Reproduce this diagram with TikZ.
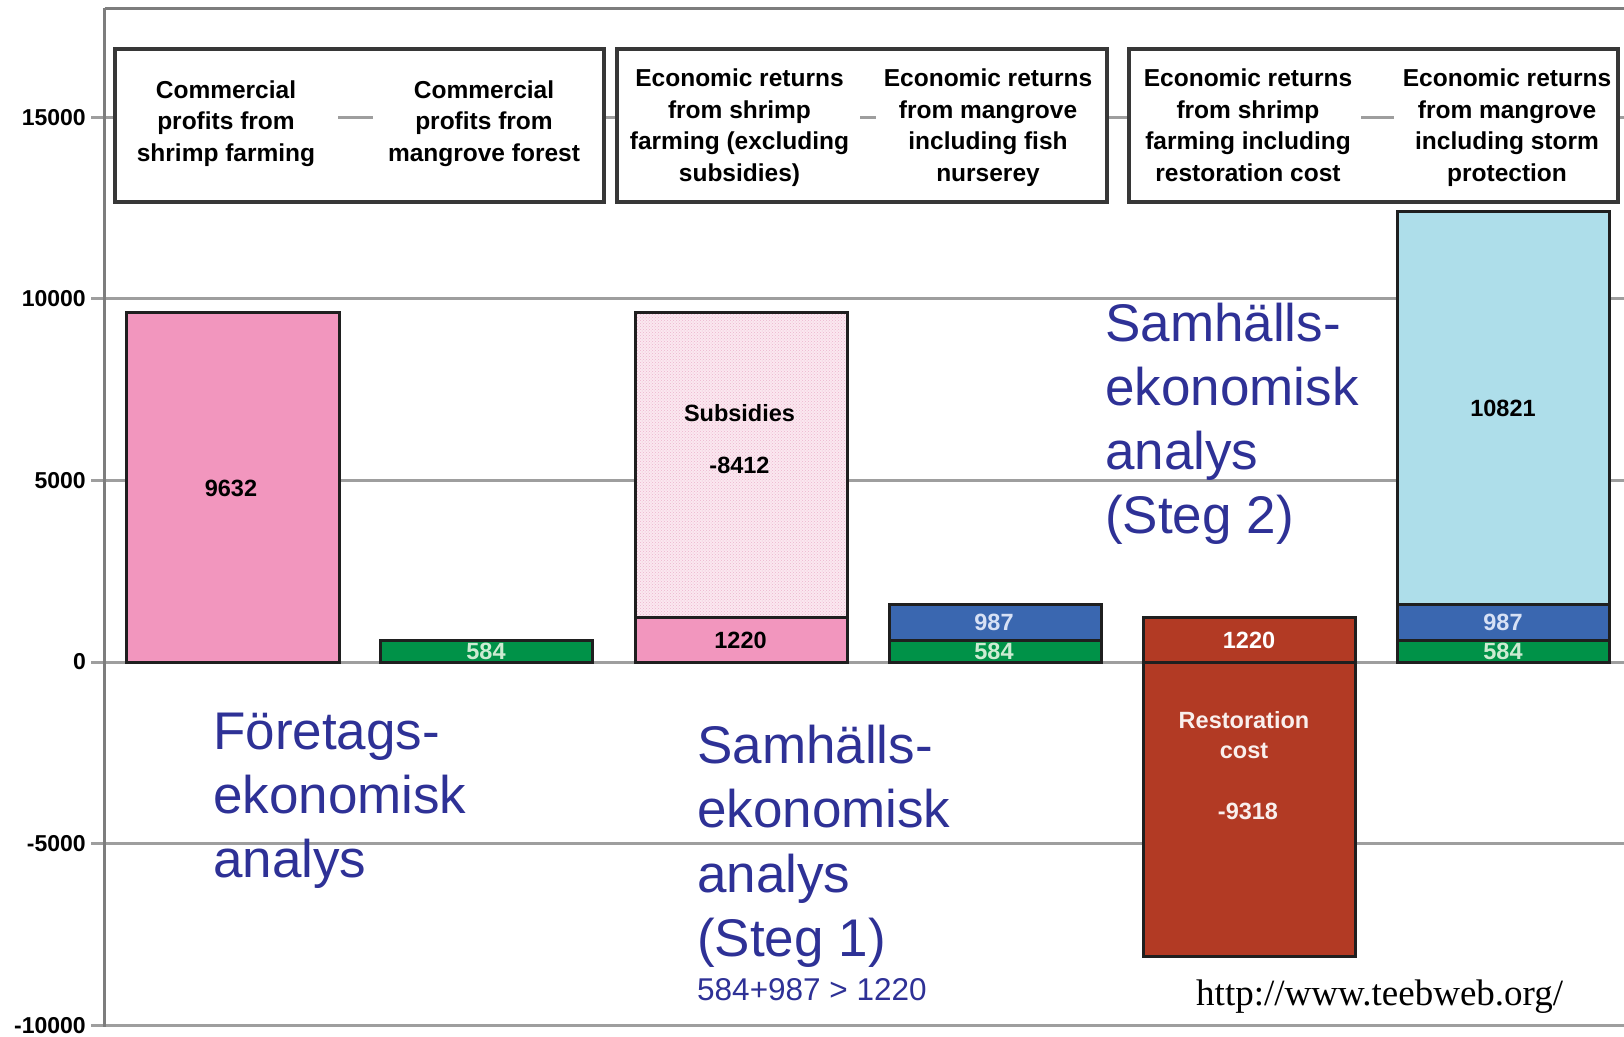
\documentclass[tikz,border=0pt]{standalone}
\usepackage{fontspec}
\setmainfont{Liberation Sans}
\newfontfamily\serifurl{Liberation Serif}
\usetikzlibrary{patterns}
\definecolor{gridc}{RGB}{158,158,158}
\definecolor{axisc}{RGB}{125,125,125}
\definecolor{pinkc}{RGB}{242,150,190}
\definecolor{pinklt}{RGB}{251,232,240}
\definecolor{pinkdot}{RGB}{236,180,205}
\definecolor{greenc}{RGB}{0,146,72}
\definecolor{bluec}{RGB}{58,103,176}
\definecolor{ltbluec}{RGB}{174,222,234}
\definecolor{redc}{RGB}{178,58,36}
\definecolor{txtblue}{RGB}{46,49,150}
\definecolor{framec}{RGB}{55,55,55}
\definecolor{lbl584}{RGB}{205,235,210}
\definecolor{lbl987}{RGB}{215,225,245}
\begin{document}
\begin{tikzpicture}[x=1pt,y=-1pt,
  gridln/.style={draw=gridc,line width=3pt},
  axisln/.style={draw=axisc,line width=3pt},
  barseg/.style={draw=black!88,line width=3pt},
  hdrbox/.style={draw=framec,line width=3.5pt,fill=white},
  hdr/.style={font=\bfseries\fontsize{24.5}{31.6}\selectfont,align=center,inner sep=0pt},
  ylab/.style={font=\bfseries\fontsize{23}{26}\selectfont,anchor=east,inner sep=0pt},
  vlab/.style={font=\bfseries\fontsize{23.5}{30}\selectfont,inner sep=0pt,align=center},
  big/.style={font=\fontsize{53}{64}\selectfont,text=txtblue,anchor=base west,inner sep=0pt},
  small/.style={font=\fontsize{31.5}{36}\selectfont,text=txtblue,anchor=base west,inner sep=0pt},
]
\useasboundingbox[fill=white] (0,0) rectangle (1624,1036);

% grid lines (values 15000 ... -10000)
\foreach \yy in {117.2,298.8,480.4,662,843.6,1025.2}
  \draw[gridln] (91,\yy) -- (1624,\yy);
% frame
\draw[axisln] (104.6,8) -- (1624,8);
\draw[axisln] (104.6,8) -- (104.6,1027);

% y labels
\node[ylab] (y15) at (86,117.2) {15000};
\node[ylab] (y10) at (86,298.8) {10000};
\node[ylab] (y5) at (86,480.4) {5000};
\node[ylab] (y0) at (86,662) {0};
\node[ylab] (ym5) at (86,843.6) {-5000};
\node[ylab] (ym10) at (86,1025.2) {-10000};

% header boxes
\draw[hdrbox] (115,49) rectangle (604,202);
\draw[hdrbox] (617,49) rectangle (1107,202);
\draw[hdrbox] (1129,49) rectangle (1618,202);
\draw[gridln] (338,117.2) -- (373,117.2);
\draw[gridln] (860,117.2) -- (876,117.2);
\draw[gridln] (1361,117.2) -- (1394,117.2);

\node[hdr] (h1) at (226,123.7) {Commercial\\profits from\\shrimp farming};
\node[hdr] (h2) at (484,123.7) {Commercial\\profits from\\mangrove forest};
\node[hdr] (h3) at (739.5,127.8) {Economic returns\\from shrimp\\farming (excluding\\subsidies)};
\node[hdr] (h4) at (988,127.8) {Economic returns\\from mangrove\\including fish\\nurserey};
\node[hdr] (h5) at (1248,125.3) {Economic returns\\from shrimp\\farming including\\restoration cost};
\node[hdr] (h6) at (1507,127.8) {Economic returns\\from mangrove\\including storm\\protection};

% bar 1
\fill[pinkc] (126,312.2) rectangle (339,662);
\draw[barseg] (126,312.2) rectangle (339,662);
% bar 2
\fill[greenc] (380,640.8) rectangle (592,662);
\draw[barseg] (380,640.8) rectangle (592,662);
% bar 3
\fill[pinklt] (635,312.2) rectangle (847,617.7);
\fill[pattern=crosshatch dots,pattern color=pinkdot] (635,312.2) rectangle (847,617.7);
\fill[pinkc] (635,617.7) rectangle (847,662);
\draw[barseg] (635,312.2) rectangle (847,662);
\draw[barseg] (635,617.7) -- (847,617.7);
% bar 4
\fill[greenc] (889,640.8) rectangle (1101,662);
\fill[bluec] (889,604.9) rectangle (1101,640.8);
\draw[barseg] (889,604.9) rectangle (1101,662);
\draw[barseg] (889,640.8) -- (1101,640.8);
% bar 5
\fill[redc] (1143,617.7) rectangle (1355,956.1);
\draw[barseg] (1143,617.7) rectangle (1355,956.1);
\draw[barseg] (1143,662) -- (1355,662);
% bar 6
\fill[ltbluec] (1397,211.9) rectangle (1609,604.9);
\fill[bluec] (1397,604.9) rectangle (1609,640.8);
\fill[greenc] (1397,640.8) rectangle (1609,662);
\draw[barseg] (1397,211.9) rectangle (1609,662);
\draw[barseg] (1397,604.9) -- (1609,604.9);
\draw[barseg] (1397,640.8) -- (1609,640.8);

% bar labels
\node[vlab] (v1) at (231,488) {9632};
\node[vlab,text=lbl584] (v2) at (486,651.4) {584};
\node[vlab] (v3a) at (739.5,413) {Subsidies};
\node[vlab] (v3b) at (739.5,465) {-8412};
\node[vlab] (v3c) at (740.5,640) {1220};
\node[vlab,text=lbl987] (v4a) at (994,622.8) {987};
\node[vlab,text=lbl584] (v4b) at (994,651.4) {584};
\node[vlab,text=white] (v5a) at (1249,640) {1220};
\node[vlab,text=white!92!redc] (v5b) at (1244,735) {Restoration\\cost};
\node[vlab,text=white!92!redc] (v5c) at (1248,811) {-9318};
\node[vlab] (v6a) at (1503,408) {10821};
\node[vlab,text=lbl987] (v6b) at (1503,622.8) {987};
\node[vlab,text=lbl584] (v6c) at (1503,651.4) {584};

% annotations
\node[big] (fa1) at (213,749) {Företags-};
\node[big] (fa2) at (213,813) {ekonomisk};
\node[big] (fa3) at (213,877) {analys};

\node[big] (sa1) at (697,763) {Samhälls-};
\node[big] (sa2) at (697,827) {ekonomisk};
\node[big] (sa3) at (697,892) {analys};
\node[big] (sa4) at (697,956) {(Steg 1)};
\node[small] (sa5) at (697,1000.3) {584+987 > 1220};

\node[big] (sb1) at (1105,341) {Samhälls-};
\node[big] (sb2) at (1105,405) {ekonomisk};
\node[big] (sb3) at (1105,469) {analys};
\node[big] (sb4) at (1105,533) {(Steg 2)};

\node[anchor=base west,inner sep=0pt,font=\serifurl\fontsize{37}{40}\selectfont] (url) at (1196,1005.5) {http://www.teebweb.org/};
\end{tikzpicture}
\end{document}
